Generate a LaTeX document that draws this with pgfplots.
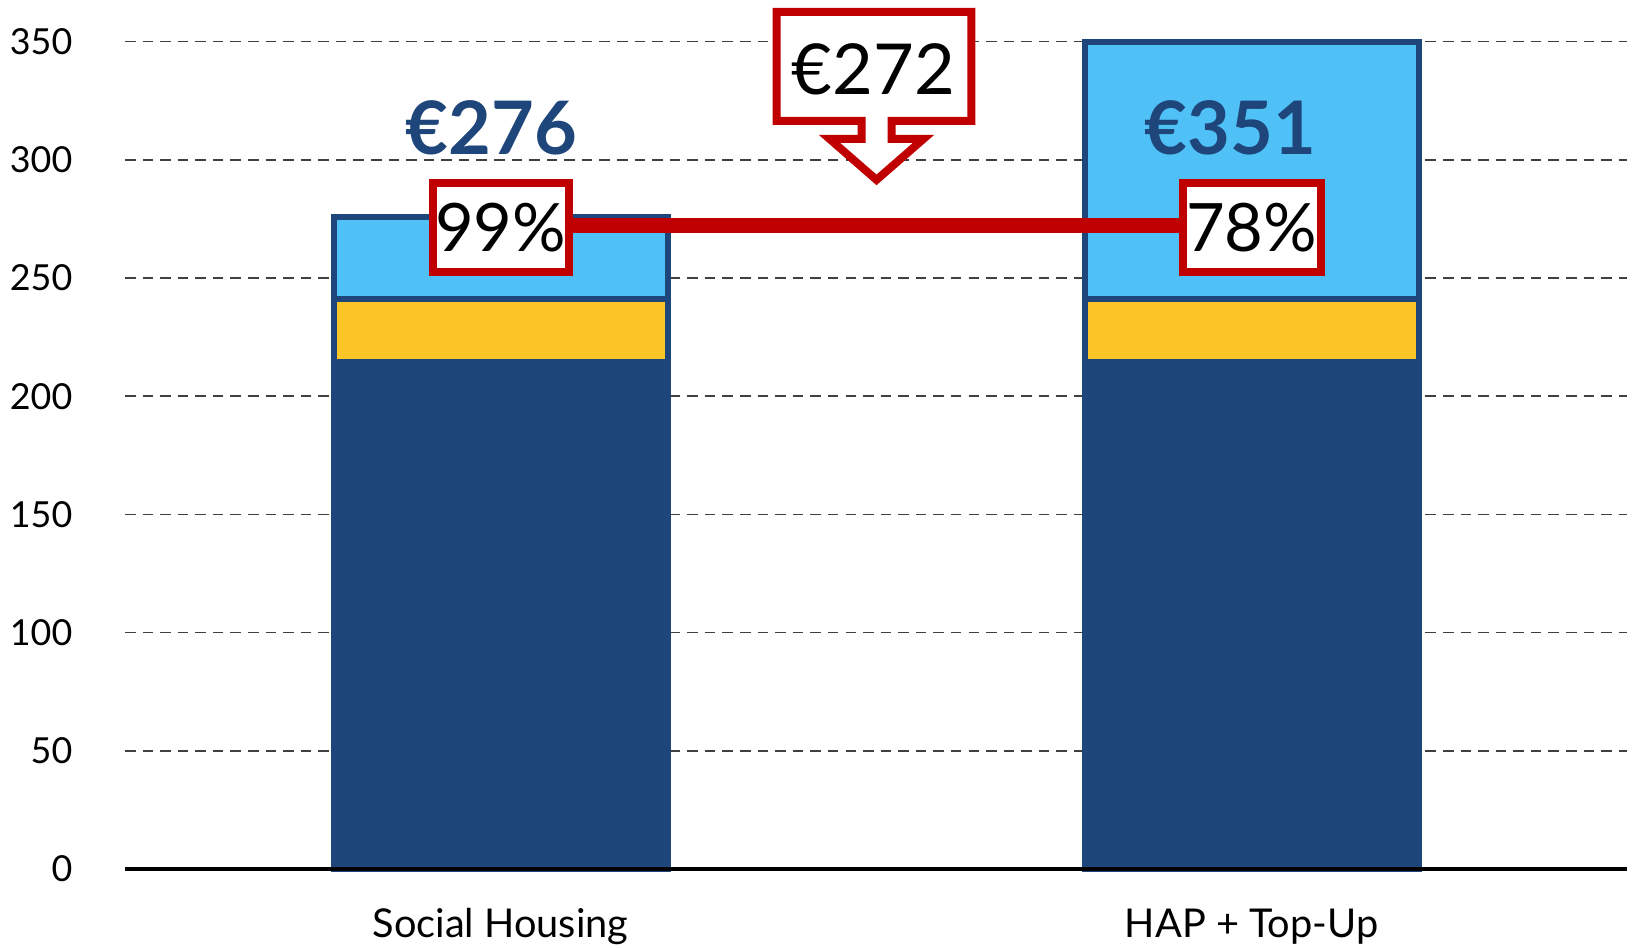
\documentclass[border=0pt]{standalone}
\usepackage{fontspec}
\setmainfont{Lato}
\usepackage{pgfplots}
\pgfplotsset{compat=1.18}
\definecolor{dblue}{RGB}{31,70,122}
\definecolor{lblue}{RGB}{79,193,247}
\definecolor{yel}{RGB}{253,198,40}
\definecolor{cred}{RGB}{192,0,0}
\begin{document}
\begin{tikzpicture}
\begin{axis}[
  at={(1.25cm,0.78cm)}, anchor=south west,
  scale only axis, width=15.02cm, height=8.274cm,
  xmin=-0.5, xmax=1.5, ymin=0, ymax=350,
  clip=false,
  ybar stacked, bar width=3.34cm,
  axis line style={draw=none},
  major tick length=0pt,
  xtick={0,1}, xticklabels={Social Housing, HAP + Top-Up},
  ytick={0,50,...,350},
  ymajorgrids, grid style={black!75, line width=0.5pt, dash pattern=on 3pt off 2pt},
  /pgf/number format/assume math mode=true,
  yticklabel style={font=\fontsize{10.2pt}{12pt}\selectfont, anchor=east, inner sep=0pt, xshift=-0.52cm},
  xticklabel style={font=\fontsize{11.3pt}{14pt}\selectfont, anchor=base, inner sep=0pt, yshift=-0.68cm},
]
\addplot[fill=dblue, draw=dblue, line width=0.06cm] coordinates {(0,214.5) (1,214.5)};
\addplot[fill=yel, draw=dblue, line width=0.06cm] coordinates {(0,26.5) (1,26.5)};
\addplot[fill=lblue, draw=dblue, line width=0.06cm] coordinates {(0,35) (1,109)};
\coordinate (AL) at (axis cs:-0.5,0);
\coordinate (AR) at (axis cs:1.5,0);
\coordinate (L1) at (axis cs:0,272);
\coordinate (L2) at (axis cs:1,272);
\coordinate (B1) at (axis cs:0,271.4);
\coordinate (B2) at (axis cs:1,271.4);
\coordinate (T1) at (axis cs:-0.012,302.4);
\coordinate (T2) at (axis cs:0.972,302.4);
\end{axis}
\draw[black, line width=0.04cm] (AL) -- (AR);
\draw[cred, line width=0.15cm] (L1) -- (L2);
\node[draw=cred, line width=0.08cm, fill=white, minimum width=1.36cm, minimum height=0.89cm, inner sep=0pt, font=\fontsize{19pt}{24pt}\selectfont] at (B1) {\raisebox{-0.3ex}{99\%}};
\node[draw=cred, line width=0.08cm, fill=white, minimum width=1.38cm, minimum height=0.89cm, inner sep=0pt, font=\fontsize{19pt}{24pt}\selectfont] at (B2) {\raisebox{-0.3ex}{78\%}};
\node[anchor=base, text=dblue, inner sep=0pt, font=\fontsize{21pt}{25pt}\selectfont\bfseries] at (T1) {€276};
\node[anchor=base, text=dblue, inner sep=0pt, font=\fontsize{21pt}{25pt}\selectfont\bfseries] at (T2) {€351};
\begin{scope}[x=0.01cm, y=-0.01cm, shift={(0,9.47cm)}]
\draw[cred, line width=0.08cm, fill=white, line join=miter]
  (777,12) -- (972,12) -- (972,121) -- (892,121) -- (892,139) -- (924,139) -- (877,180) -- (830,139) -- (862,139) -- (862,121) -- (777,121) -- cycle;
\node[inner sep=0pt, font=\fontsize{20pt}{24pt}\selectfont] at (874,69) {€272};
\end{scope}
\pgfresetboundingbox
\useasboundingbox (0,0) rectangle (16.32cm,9.47cm);
\end{tikzpicture}
\end{document}
